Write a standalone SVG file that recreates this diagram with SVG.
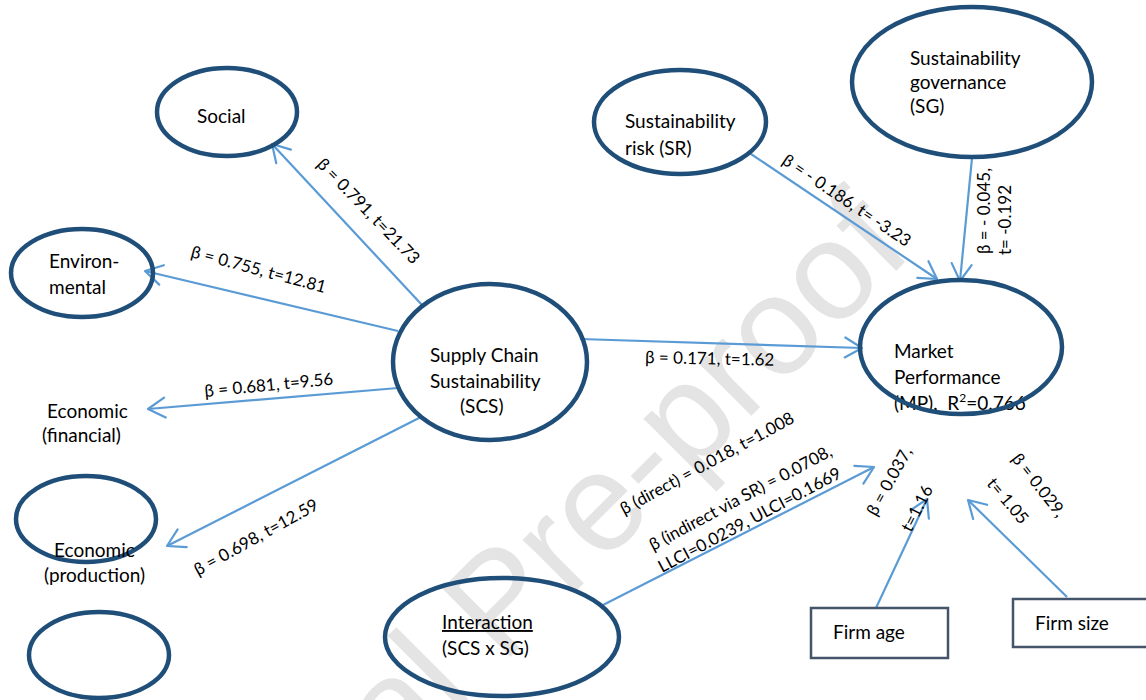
<svg xmlns="http://www.w3.org/2000/svg" width="1146" height="700" viewBox="0 0 1146 700">
<defs>
<style>
.node{fill:none;stroke:#1f4e79;stroke-width:4.5}
.box{fill:#ffffff;stroke:#44546a;stroke-width:2.5}
.edge{fill:none;stroke:#5b9bd5;stroke-width:2.2;marker-end:url(#ah)}
.t{font-family:Lato,"Liberation Sans",sans-serif;font-size:19px;fill:#000}
.lbl{font-family:Lato,"Liberation Sans",sans-serif;font-size:17px;fill:#000}
.wm{font-family:"Liberation Sans",Arial,sans-serif;font-size:140px;fill:#e4e4e4}
</style>
<marker id="ah" markerUnits="userSpaceOnUse" markerWidth="30" markerHeight="30" viewBox="-20 -15 30 30" refX="0" refY="0" orient="auto" overflow="visible">
<path d="M-17,-10 L0,0 L-17,10" fill="none" stroke="#5b9bd5" stroke-width="2.2" stroke-linecap="round" stroke-linejoin="round"/>
</marker>
</defs>
<rect width="1146" height="700" fill="#ffffff"/>
<text class="wm" text-anchor="end" transform="translate(915,252) rotate(-45)">Journal Pre-proof</text>

<g id="connectors">
<line class="edge" x1="422" y1="305" x2="272" y2="144"/>
<line class="edge" x1="398" y1="331" x2="145" y2="271"/>
<line class="edge" x1="398" y1="388" x2="148" y2="409"/>
<line class="edge" x1="421" y1="417" x2="167" y2="546"/>
<line class="edge" x1="580" y1="339" x2="862" y2="348"/>
<line class="edge" x1="748" y1="152" x2="937" y2="279"/>
<line class="edge" x1="972" y1="158" x2="960" y2="281"/>
<line class="edge" x1="603" y1="605" x2="874" y2="467"/>
<line class="edge" x1="876" y1="608" x2="927" y2="499"/>
<line class="edge" x1="1067" y1="597" x2="968" y2="500"/>
<text class="lbl" transform="translate(316,165) rotate(46)">β = 0.791, t=21.73</text>
<text class="lbl" transform="translate(190,257) rotate(15)">β = 0.755, t=12.81</text>
<text class="lbl" transform="translate(205,397) rotate(-5.5)">β = 0.681, t=9.56</text>
<text class="lbl" transform="translate(198,576) rotate(-29)">β = 0.698, t=12.59</text>
<text class="lbl" transform="translate(645,363) rotate(1.2)">β = 0.171, t=1.62</text>
<text class="lbl" transform="translate(781,163) rotate(34)">β = - 0.186, t= -3.23</text>
<text class="lbl" transform="translate(990,254) rotate(-90)">β = - 0.045,</text>
<text class="lbl" transform="translate(1011,255) rotate(-90)">t= -0.192</text>
<text class="lbl" transform="translate(624,515) rotate(-28.5)">β (direct) = 0.018, t=1.008</text>
<text class="lbl" transform="translate(653,551) rotate(-28)">β (indirect via SR) = 0.0708,</text>
<text class="lbl" transform="translate(662,573) rotate(-28)">LLCI=0.0239, ULCI=0.1669</text>
<text class="lbl" transform="translate(876,517) rotate(-61)">β = 0.037,</text>
<text class="lbl" transform="translate(911,533) rotate(-63)">t=1.16</text>
<text class="lbl" transform="translate(1011,459) rotate(52)">β = 0.029,</text>
<text class="lbl" transform="translate(986,484) rotate(50)">t= 1.05</text>
</g>

<g id="social">
<ellipse class="node" cx="227" cy="112" rx="70" ry="44"/>
<text class="t" x="197" y="123">Social</text>
</g>
<g id="environmental">
<ellipse class="node" cx="82" cy="273" rx="71" ry="44"/>
<text class="t" x="49" y="268">Environ-</text>
<text class="t" x="49" y="294">mental</text>
</g>
<g id="economic-financial">
<text class="t" x="47" y="418">Economic</text>
<text class="t" x="42" y="442">(financial)</text>
</g>
<g id="economic-production">
<ellipse class="node" cx="86" cy="519" rx="70" ry="43"/>
<text class="t" x="54" y="557">Economic</text>
<text class="t" x="44" y="582">(production)</text>
</g>
<g id="empty-node">
<ellipse class="node" cx="99" cy="655" rx="70" ry="43"/>
</g>
<g id="scs">
<ellipse class="node" cx="490" cy="362" rx="97" ry="78"/>
<text class="t" x="430" y="362">Supply Chain</text>
<text class="t" x="430" y="388">Sustainability</text>
<text class="t" x="460" y="413">(SCS)</text>
</g>
<g id="sr">
<ellipse class="node" cx="680" cy="122" rx="86" ry="52"/>
<text class="t" x="625" y="128">Sustainability</text>
<text class="t" x="625" y="155">risk (SR)</text>
</g>
<g id="sg">
<ellipse class="node" cx="972" cy="82" rx="120" ry="75"/>
<text class="t" x="910" y="65">Sustainability</text>
<text class="t" x="910" y="89">governance</text>
<text class="t" x="910" y="113">(SG)</text>
</g>
<g id="mp">
<text class="t" x="894" y="358">Market</text>
<text class="t" x="894" y="384">Performance</text>
<text class="t" x="894" y="410">(MP),&#160; R<tspan font-size="12" dy="-8">2</tspan><tspan dy="8">=0.766</tspan></text>
<ellipse class="node" cx="961" cy="347" rx="101" ry="67"/>
</g>
<g id="interaction">
<ellipse class="node" cx="502" cy="637" rx="117" ry="59"/>
<text class="t" x="442" y="629" text-decoration="underline">Interaction</text>
<text class="t" x="442" y="655">(SCS x SG)</text>
</g>
<g id="firm-age">
<rect class="box" x="811" y="608" width="137" height="50"/>
<text class="t" x="833" y="639">Firm age</text>
</g>
<g id="firm-size">
<rect class="box" x="1013" y="599" width="140" height="48"/>
<text class="t" x="1035" y="630">Firm size</text>
</g>
</svg>
